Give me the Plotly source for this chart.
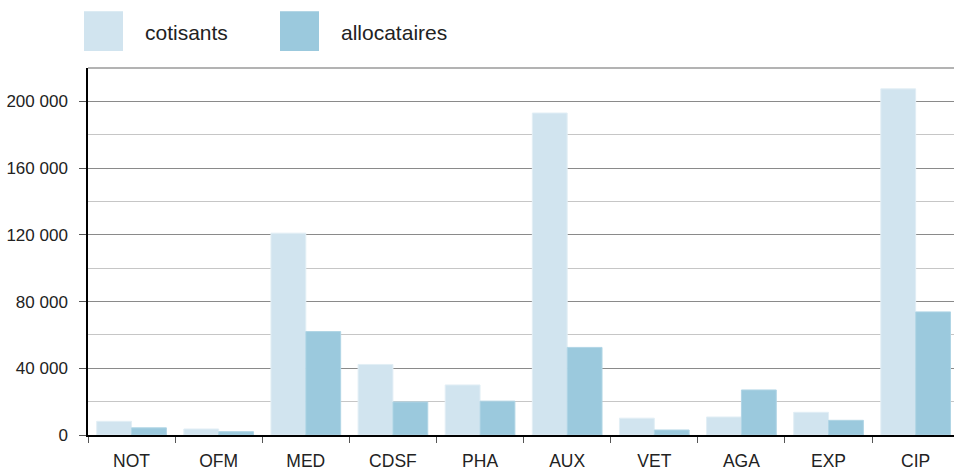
import plotly.graph_objects as go

categories = ["NOT", "OFM", "MED", "CDSF", "PHA", "AUX", "VET", "AGA", "EXP", "CIP"]
cotisants = [8200, 3600, 121000, 42300, 30000, 193000, 10100, 10800, 13600, 207500]
allocataires = [4300, 2000, 62000, 19800, 20300, 52500, 3000, 27000, 8800, 73800]
y_ticks = [0, 40000, 80000, 120000, 160000, 200000]
y_tick_labels = ["0", "40 000", "80 000", "120 000", "160 000", "200 000"]

c_cot = "#d1e4ef"
c_all = "#9bc9dd"
FONT = "Liberation Sans, Arial, sans-serif"

fig = go.Figure()
fig.add_trace(go.Bar(x=categories, y=cotisants, name="cotisants", marker_color=c_cot,
                     marker_line=dict(color="#e2eef5", width=1)))
fig.add_trace(go.Bar(x=categories, y=allocataires, name="allocataires", marker_color=c_all,
                     marker_line=dict(color="#b0d5e5", width=1)))

W, H = 954, 471
PL, PT, PR, PB = 88, 68, 954, 437  # plot area in window pixels
L, T, R, B = PL, PT, W - PR, H - PB
pw, ph = PR - PL, PB - PT

def px(x):
    return (x - PL) / pw

def py(y):
    return (PB - y) / ph

# legend drawn manually (large squares)
for (x0, col, label) in [(84, c_cot, "cotisants"), (280, c_all, "allocataires")]:
    fig.add_shape(type="rect", xref="paper", yref="paper",
                  x0=px(x0), x1=px(x0 + 39), y0=py(51), y1=py(11),
                  fillcolor=col, line=dict(width=0))
    fig.add_annotation(xref="paper", yref="paper", x=px(x0 + 59), y=py(32),
                       text=label, showarrow=False, xanchor="left", yanchor="middle",
                       font=dict(family=FONT, size=21, color="#222"))

# top border line of the plot area
fig.add_shape(type="line", xref="paper", yref="paper", x0=0, x1=1, y0=1, y1=1,
              line=dict(color="#9a9a9a", width=1.5), layer="below")

fig.update_layout(
    width=W, height=H,
    margin=dict(l=L, r=R, t=T, b=B),
    plot_bgcolor="white", paper_bgcolor="white",
    barmode="group", bargap=0.2, bargroupgap=0,
    showlegend=False,
    font=dict(family=FONT, size=17, color="#222"),
)
fig.update_xaxes(
    range=[-0.5, 9.44], tickson="boundaries", ticks="outside", ticklen=6,
    tickcolor="#555", showline=True, linecolor="black", linewidth=1.5,
    showgrid=False, tickfont=dict(size=17.5), ticklabelstandoff=9,
)
fig.update_yaxes(
    range=[0, 220000], tickvals=y_ticks, ticktext=y_tick_labels,
    ticks="outside", ticklen=7, tickcolor="#555",
    showline=True, linecolor="black", linewidth=1.5,
    showgrid=True, gridcolor="#8a8a8a", gridwidth=1,
    minor=dict(dtick=20000, tick0=0, showgrid=True, gridcolor="#c6c6c6", gridwidth=1),
    zeroline=False, tickfont=dict(size=17), ticklabelstandoff=8,
)

fig.write_html(
    "out.html",
    config={"displayModeBar": False},
    post_script="document.body.style.margin='0';document.body.style.overflow='hidden';",
)
